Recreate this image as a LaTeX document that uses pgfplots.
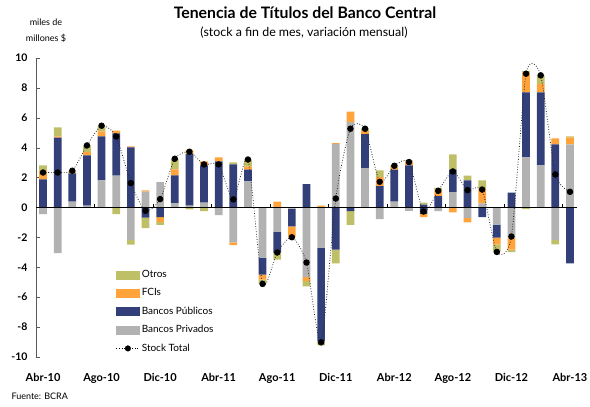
\documentclass[border=0pt]{standalone}
\usepackage{pgfplots}
\pgfplotsset{compat=1.18}
\usepackage{pgfplotstable}
\usepackage{fontspec}
\setmainfont{Lato}
\definecolor{cPriv}{HTML}{B2B2B2}
\definecolor{cPub}{HTML}{323F79}
\definecolor{cFci}{HTML}{FFA33A}
\definecolor{cOtr}{HTML}{BFBF67}

\pgfplotstableread{
x pP uP fP oP pN uN fN oN st
0 0 1.88 0.60 0.33 -0.45 0 0 0 2.34
1 0 4.67 0.09 0.60 -3.06 0 0 0 2.34
2 0.40 1.88 0.10 0.07 0 0 0 0 2.46
3 0.13 3.35 0.22 0.45 0 0 0 0 4.15
4 1.81 2.95 0.33 0.38 0 0 0 0 5.47
5 2.14 2.81 0.20 0 0 0 0 -0.45 4.75
6 0 4.02 0.07 0 -2.17 0 0 -0.31 1.63
7 1.07 0 0.07 0 0 -0.67 0 -0.71 -0.22
8 1.70 0 0 0 0 -0.65 -0.33 -0.19 0.56
9 0.27 1.88 0.40 0.71 0 0 0 0 3.26
10 0.13 3.46 0.27 0 0 0 0 -0.13 3.73
11 0.33 2.48 0.27 0 0 0 0 -0.25 2.88
12 0 3.08 0.27 0 -0.51 0 0 0 2.88
13 0 2.88 0 0.13 -2.34 0 -0.18 0 0.54
14 1.74 0.80 0.20 0.47 0 0 0 0 3.21
15 0 0 0 0 -3.35 -1.14 -0.33 -0.29 -5.11
16 0 0 0.40 0 -1.61 -1.41 0 -0.47 -3.01
17 0 0 0 0 -0.08 -1.18 -0.71 0 -1.99
18 0 1.56 0 0 -4.65 0 -0.26 -0.37 -3.68
19 0 0 0.13 0 -2.68 -6.27 0 -0.27 -9.02
20 4.26 0 0.05 0 0 -2.81 0 -0.92 0.60
21 5.71 0 0.71 0 0 -0.25 0 -0.92 5.27
22 2.63 2.28 0.22 0.16 0 0 0 0 5.27
23 0 1.43 0.60 0.45 -0.78 0 0 0 1.72
24 0.40 2.14 0.16 0.11 0 0 0 0 2.79
25 0 2.81 0.27 0.08 -0.22 0 0 0 3.04
26 0 0.20 0 0.13 0 -0.42 -0.23 0 -0.27
27 0 0.76 0.38 0.18 -0.25 0 0 0 1.12
28 1.02 1.52 0 1.01 0 0 -0.32 0 2.41
29 0 1.81 0 0.33 -0.71 0 -0.29 0 1.16
30 0.27 0 0.94 0.60 0 -0.65 0 0 1.20
31 0 0 0 0 -1.14 -0.87 -0.45 -0.49 -2.97
32 0 1.00 0 0 -2.01 0 -0.80 -0.18 -1.94
33 3.35 4.35 1.34 0.09 0 0 0 -0.11 8.95
34 2.81 4.89 0.56 0.58 0 0 0 0 8.84
35 0 4.22 0.40 0 -2.17 0 0 -0.29 2.21
36 4.22 0 0.47 0.07 0 -3.73 0 0 1.05
}\data

\pgfplotsset{base/.style={
  scale only axis, width=541pt, height=299pt,
  at={(36pt,50pt)}, anchor=south west,
  xmin=-0.48, xmax=36.48, ymin=-10, ymax=10,
}}

\begin{document}
\begin{tikzpicture}[x=1pt,y=1pt]
\useasboundingbox (0,0) rectangle (590,407);
\begin{axis}[base, ybar stacked, bar width=7.7pt,
  axis y line*=left, axis x line*=bottom, x axis line style={draw=none},
  ytick={-10,-8,...,10}, yticklabels={-10,-8,-6,-4,-2,0,2,4,6,8,10},
  yticklabel style={font=\bfseries\fontsize{10.5}{12}\selectfont, xshift=-5pt},
  tick align=inside, major tick length=3.5pt,
  y axis line style={color=black!65}, ytick style={color=black!65},
  xtick={0,4,...,36},
  xticklabels={Abr-10,Ago-10,Dic-10,Abr-11,Ago-11,Dic-11,Abr-12,Ago-12,Dic-12,Abr-13},
  xtick style={draw=none},
  xticklabel style={font=\bfseries\fontsize{11}{13}\selectfont, yshift=-13pt},
]
\addplot[fill=cPriv, draw=none] table[x=x,y=pP]{\data};
\addplot[fill=cPub, draw=none] table[x=x,y=uP]{\data};
\addplot[fill=cFci, draw=none] table[x=x,y=fP]{\data};
\addplot[fill=cOtr, draw=none] table[x=x,y=oP]{\data};
\end{axis}
\begin{axis}[base, ybar stacked, bar width=7.7pt, hide axis]
\addplot[fill=cPriv, draw=none] table[x=x,y=pN]{\data};
\addplot[fill=cPub, draw=none] table[x=x,y=uN]{\data};
\addplot[fill=cFci, draw=none] table[x=x,y=fN]{\data};
\addplot[fill=cOtr, draw=none] table[x=x,y=oN]{\data};
\end{axis}
\begin{axis}[base, hide axis,
  legend style={at={(0.1475,0.297)}, anchor=north west, draw=none, fill=none,
    font=\fontsize{10}{12}\selectfont, row sep=5.6pt, inner sep=0pt},
  legend cell align=left,
]
\draw[black, line width=0.9pt] (axis cs:-0.48,0) -- (axis cs:36.48,0);
\pgfplotsinvokeforeach{3.5,7.5,...,35.5}{\draw[black, line width=0.6pt] (axis cs:#1,0) -- ++(0pt,3.5pt);}
\addlegendimage{legend image code/.code={\fill[cOtr] (0pt,-4pt) rectangle (23pt,4pt);}}
\addlegendentry{Otros}
\addlegendimage{legend image code/.code={\fill[cFci] (0pt,-4pt) rectangle (23pt,4pt);}}
\addlegendentry{FCIs}
\addlegendimage{legend image code/.code={\fill[cPub] (0pt,-4pt) rectangle (23pt,4pt);}}
\addlegendentry{Bancos Públicos}
\addlegendimage{legend image code/.code={\fill[cPriv] (0pt,-4pt) rectangle (23pt,4pt);}}
\addlegendentry{Bancos Privados}
\addlegendimage{legend image code/.code={\draw[black, dash pattern=on 0.8pt off 1.8pt, line width=0.8pt] (0pt,0pt) -- (23pt,0pt); \fill[black] (11.5pt,0pt) circle (2.8pt);}}
\addlegendentry{Stock Total}
\addplot[black!85, dash pattern=on 0.8pt off 1.8pt, line width=0.8pt, smooth, tension=0.4,
  mark=*, mark size=2.8pt, mark options={solid, fill=black, draw=black}, forget plot]
  table[x=x,y=st]{\data};
\end{axis}
\node[font=\bfseries\fontsize{15.8}{18}\selectfont] at (305,394) {Tenencia de Títulos del Banco Central};
\node[font=\fontsize{12.4}{14}\selectfont] at (304,374) {(stock a fin de mes, variación mensual)};
\node[font=\fontsize{9}{10}\selectfont] at (46,385) {miles de};
\node[font=\fontsize{9}{10}\selectfont] at (46,369) {millones \$};
\node[font=\fontsize{9}{10}\selectfont, anchor=west] at (8,11) {Fuente: BCRA};
\end{tikzpicture}
\end{document}
